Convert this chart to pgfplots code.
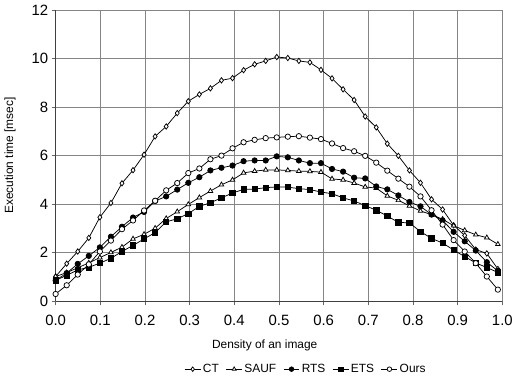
\documentclass[border=0pt]{standalone}
\usepackage{pgfplots}
\usepackage{pgfplotstable}
\pgfplotsset{compat=1.18}
\usepackage{fontspec}
\setmainfont{Liberation Sans}

\pgfplotstableread{
x ct sauf rts ets ours
0.00000 1.02 1.02 0.86 0.86 0.30
0.02475 1.55 1.18 1.16 1.07 0.66
0.04950 2.05 1.38 1.54 1.29 1.10
0.07425 2.61 1.58 1.87 1.40 1.52
0.09900 3.46 1.80 2.22 1.57 2.05
0.12375 4.05 2.01 2.66 1.77 2.50
0.14850 4.86 2.23 3.07 2.05 2.97
0.17325 5.40 2.57 3.45 2.30 3.33
0.19800 6.04 2.76 3.68 2.57 3.74
0.22275 6.79 3.01 4.13 2.83 4.14
0.24750 7.20 3.41 4.32 3.27 4.57
0.27225 7.75 3.69 4.60 3.40 4.87
0.29700 8.24 3.99 4.88 3.61 5.28
0.32175 8.52 4.27 5.11 3.91 5.47
0.34650 8.77 4.54 5.39 4.06 5.85
0.37125 9.10 4.80 5.50 4.26 6.00
0.39600 9.19 5.00 5.59 4.46 6.30
0.42075 9.52 5.29 5.77 4.61 6.55
0.44550 9.76 5.36 5.80 4.62 6.65
0.47025 9.90 5.41 5.80 4.68 6.72
0.49500 10.06 5.41 5.97 4.71 6.75
0.51975 10.02 5.39 5.93 4.70 6.78
0.54450 9.90 5.36 5.80 4.64 6.80
0.56925 9.84 5.35 5.69 4.60 6.74
0.59400 9.53 5.32 5.69 4.50 6.68
0.61875 9.18 5.04 5.45 4.43 6.50
0.64350 8.73 5.00 5.34 4.26 6.31
0.66825 8.29 4.87 5.09 4.13 6.18
0.69300 7.61 4.71 5.06 3.94 5.99
0.71775 7.16 4.66 4.73 3.75 5.71
0.74250 6.49 4.34 4.61 3.51 5.38
0.76725 5.99 4.16 4.36 3.25 5.05
0.79200 5.39 3.93 4.09 3.23 4.72
0.81675 4.88 3.72 3.91 2.87 4.32
0.84150 4.20 3.57 3.57 2.59 3.75
0.86625 3.78 3.38 3.33 2.40 3.16
0.89100 3.13 3.11 2.86 2.11 2.52
0.91575 2.71 2.92 2.47 1.84 2.05
0.94050 2.13 2.74 2.09 1.58 1.57
0.96525 1.97 2.62 1.61 1.39 1.02
0.99000 1.33 2.35 1.25 1.19 0.48
}\datatable

\begin{document}
\begin{tikzpicture}
\begin{axis}[
  scale only axis,
  width=449.7bp, height=293.3bp,
  xmin=0, xmax=1, ymin=0, ymax=12,
  xtick={0,0.1,0.2,0.3,0.4,0.5,0.6,0.7,0.8,0.9,1.0},
  ytick={0,2,4,6,8,10,12},
  axis lines=left,
  axis line style={-, black!75, line width=0.8bp},
  grid=major,
  major grid style={black!48, line width=0.8bp},
  tick align=outside,
  major tick length=4bp,
  tick style={black!60, line width=0.8bp},
  /pgf/number format/assume math mode=true,
  ticklabel style={font=\fontsize{15bp}{17bp}\selectfont},
  xticklabel style={yshift=-6bp, /pgf/number format/.cd, fixed, fixed zerofill, precision=1},
  yticklabel style={/pgf/number format/.cd, fixed, precision=0},
  xlabel={Density of an image},
  ylabel={Execution time [msec]},
  label style={font=\fontsize{12bp}{14bp}\selectfont},
  xlabel style={at={(rel axis cs:0.468,-0.153)}, anchor=center},
  ylabel style={at={(rel axis cs:-0.1023,0.5)}, anchor=center, rotate=0},
  every axis plot/.append style={black, line width=0.75bp, mark size=2.7bp, mark options={solid, line width=0.6bp}},
  legend columns=-1,
  legend style={draw=none, fill=none, at={(rel axis cs:0.5604,-0.2330)}, anchor=center,
    font=\fontsize{12bp}{14bp}\selectfont,
    /tikz/every even column/.append style={column sep=5bp}},
  legend image code/.code={\draw[mark repeat=2, mark phase=2, #1, mark size=2.3bp] plot coordinates {(0bp,0bp) (8bp,0bp) (16bp,0bp)};},
]
\addplot[mark=diamond*, mark options={fill=white}] table[x=x, y=ct] {\datatable};
\addlegendentry{CT}
\addplot[mark=triangle*, mark options={fill=white}] table[x=x, y=sauf] {\datatable};
\addlegendentry{SAUF}
\addplot[mark=*, mark options={fill=black}] table[x=x, y=rts] {\datatable};
\addlegendentry{RTS}
\addplot[mark=square*, mark options={fill=black}] table[x=x, y=ets] {\datatable};
\addlegendentry{ETS}
\addplot[mark=*, mark options={fill=white}] table[x=x, y=ours] {\datatable};
\addlegendentry{Ours}
\coordinate (bbl) at (rel axis cs:-0.12453,-0.26492);
\coordinate (btr) at (rel axis cs:1.02290,1.03409);
\end{axis}
\path (bbl) rectangle (btr);
\end{tikzpicture}
\end{document}
